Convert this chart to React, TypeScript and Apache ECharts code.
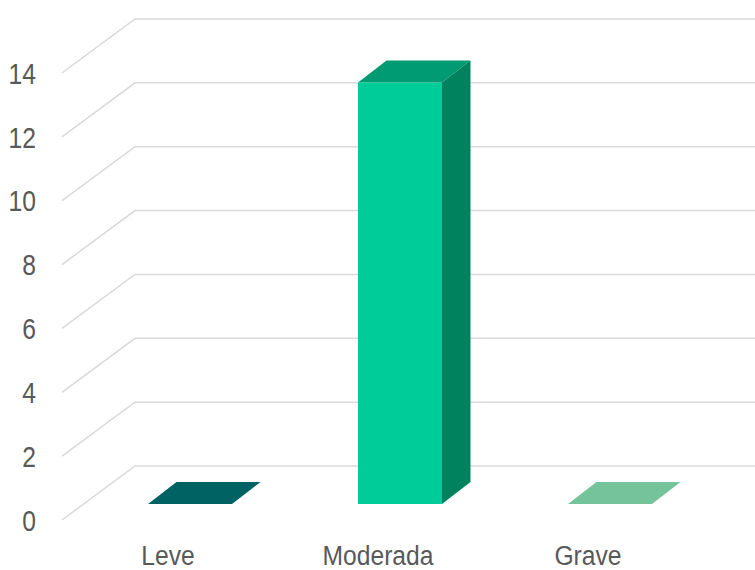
import React, { useEffect, useRef } from "react";
import * as echarts from "echarts";

const categories = ["Leve", "Moderada", "Grave"];
const cases = [0, 13.2, 0];
const yTicks = [0, 2, 4, 6, 8, 10, 12, 14];

// Face colours of each column: front, top, side.
const faceColors = [
  ["#00CC99", "#006262", "#00825F"],
  ["#00CC99", "#009B73", "#00825F"],
  ["#00CC99", "#75C39B", "#00825F"],
];

// Oblique projection of the pseudo-3D box, in pixels.
const WALL_DX = 73;
const WALL_DY = -54;
const GAP_DX = 23;
const GAP_DY = -16;
const BAR_DX = 28.5;
const BAR_DY = -22;
const BAR_WIDTH = 84;
const GRID_RIGHT_EDGE = 755;

// Axis captions are set in a horizontally condensed sans.
const Y_LABEL_FONT = "29px 'Liberation Sans', Arial, sans-serif";
const X_LABEL_FONT = "28px 'Liberation Sans', Arial, sans-serif";
const LABEL_COLOR = "#595959";
const Y_LABEL_SCALE_X = 0.85;
const X_LABEL_SCALE_X = 0.88;
const Y_LABEL_GAP = 26;
const Y_LABEL_DROP = 1;
const X_LABEL_Y = 555.5;

function renderWall(_params: any, api: any) {
  const value = api.value(1);
  const band = api.size([1, 0])[0];
  const [cx, y] = api.coord([0, value]);
  const x0 = cx - band / 2;
  return {
    type: "group",
    children: [
      {
        type: "polyline",
        shape: {
          points: [
            [x0, y],
            [x0 + WALL_DX, y + WALL_DY],
            [GRID_RIGHT_EDGE, y + WALL_DY],
          ],
        },
        style: { stroke: "#D9D9D9", lineWidth: 1.5, fill: "none" },
      },
      {
        type: "text",
        x: x0 - Y_LABEL_GAP,
        y: y + Y_LABEL_DROP,
        scaleX: Y_LABEL_SCALE_X,
        style: {
          text: String(value),
          font: Y_LABEL_FONT,
          fill: LABEL_COLOR,
          textAlign: "right",
          textVerticalAlign: "middle",
        },
      },
    ],
  };
}

function renderBar(params: any, api: any) {
  const index = api.value(0);
  const value = api.value(1);
  const [cx, topY] = api.coord([index, value]);
  const [, baseY] = api.coord([index, 0]);
  const [frontColor, topColor, sideColor] = faceColors[params.dataIndex];
  const left = cx + GAP_DX - BAR_WIDTH / 2;
  const right = left + BAR_WIDTH;
  const bottom = baseY + GAP_DY;
  const top = topY + GAP_DY;
  const children: any[] = [
    {
      type: "polygon",
      shape: {
        points: [
          [left, top],
          [right, top],
          [right + BAR_DX, top + BAR_DY],
          [left + BAR_DX, top + BAR_DY],
        ],
      },
      style: { fill: topColor },
    },
    {
      type: "text",
      x: cx + 1,
      y: X_LABEL_Y,
      scaleX: X_LABEL_SCALE_X,
      style: {
        text: categories[index],
        font: X_LABEL_FONT,
        fill: LABEL_COLOR,
        textAlign: "center",
        textVerticalAlign: "middle",
      },
    },
  ];
  if (value > 0) {
    children.push(
      {
        type: "polygon",
        shape: {
          points: [
            [right, top],
            [right + BAR_DX, top + BAR_DY],
            [right + BAR_DX, bottom + BAR_DY],
            [right, bottom],
          ],
        },
        style: { fill: sideColor },
      },
      {
        type: "rect",
        shape: { x: left, y: top, width: BAR_WIDTH, height: bottom - top },
        style: { fill: frontColor },
      }
    );
  }
  return { type: "group", children };
}

export default function App() {
  const ref = useRef<HTMLDivElement>(null);

  useEffect(() => {
    const chart = echarts.init(ref.current!, undefined, { renderer: "svg" });
    chart.setOption({
      animation: false,
      backgroundColor: "#FFFFFF",
      grid: { left: 62, right: 63, top: 73, bottom: 50, containLabel: false },
      xAxis: {
        type: "category",
        data: categories,
        axisLine: { show: false },
        axisTick: { show: false },
        splitLine: { show: false },
        axisLabel: { show: false },
      },
      yAxis: {
        type: "value",
        min: 0,
        max: 14,
        interval: 2,
        axisLine: { show: false },
        axisTick: { show: false },
        splitLine: { show: false },
        axisLabel: { show: false },
      },
      series: [
        {
          type: "custom",
          name: "wall",
          silent: true,
          clip: false,
          z: 1,
          renderItem: renderWall,
          data: yTicks.map((t) => [0, t]),
        },
        {
          type: "custom",
          name: "Casos",
          silent: true,
          clip: false,
          z: 2,
          renderItem: renderBar,
          data: cases.map((v, i) => [i, v]),
        },
      ],
    });
    return () => chart.dispose();
  }, []);

  return (
    <div
      ref={ref}
      style={{ position: "fixed", left: 0, top: 0, width: 755, height: 570 }}
    />
  );
}
